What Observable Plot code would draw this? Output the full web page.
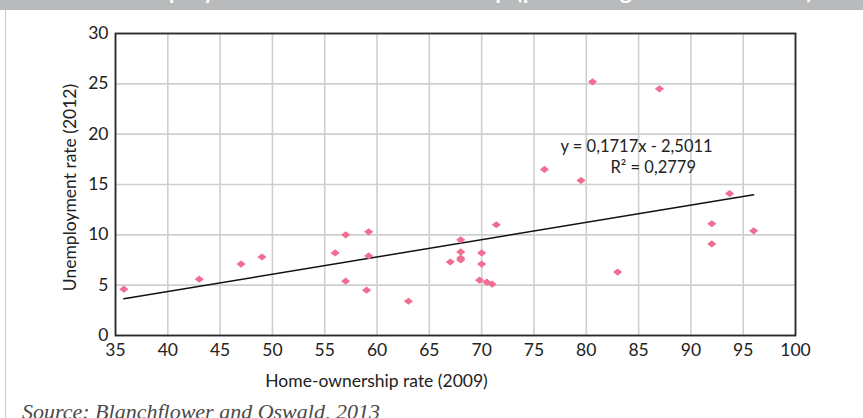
<!DOCTYPE html>
<html>
<head>
<meta charset="utf-8">
<script src="https://cdn.jsdelivr.net/npm/d3@7"></script>
<script src="https://cdn.jsdelivr.net/npm/@observablehq/plot@0.6"></script>
<style>
  html, body { margin: 0; padding: 0; background: #fff; }
  #wrap { position: relative; width: 863px; height: 418px; overflow: hidden; background: #fff; }
  #header { position: absolute; left: 0; top: 0; width: 863px; height: 10px; background: #b9babc; overflow: hidden; }
  #header span { position: absolute; left: 104px; top: -21px; line-height: 23px; font-family: Lato, sans-serif; font-weight: bold; font-size: 23px; color: #fff; white-space: nowrap; letter-spacing: 0.9px; }
  #leftline { position: absolute; left: 5px; top: 10px; width: 1px; height: 408px; background: #c8c8c8; }
  #chart { position: absolute; left: 0; top: 0; }
  #source { position: absolute; left: 22px; top: 401px; line-height: 22px; font-family: "Liberation Serif", serif; font-style: italic; font-size: 22px; color: #4a4a4a; white-space: nowrap; }
</style>
</head>
<body>
<div id="wrap">
  <div id="header"><span>Unemployment and home ownership (percentage of households)</span></div>
  <div id="leftline"></div>
  <div id="chart"></div>
  <div id="source">Source: Blanchflower and Oswald, 2013</div>
</div>
<script>
// Home-ownership rate (2009), x
const homeOwnership = [35.8, 43.0, 47.0, 49.0, 56.0, 57.0, 57.0, 59.0, 59.2, 59.2, 63.0, 67.0, 68.0, 68.0, 68.0, 68.0, 69.8, 70.0, 70.0, 70.5, 71.0, 71.4, 76.0, 79.5, 80.6, 83.0, 87.0, 92.0, 92.0, 93.7, 96.0];
// Unemployment rate (2012), y
const unemployment = [4.6, 5.6, 7.1, 7.8, 8.2, 10.0, 5.4, 4.5, 10.3, 7.9, 3.4, 7.3, 9.5, 8.3, 7.7, 7.5, 5.5, 8.2, 7.1, 5.3, 5.1, 11.0, 16.5, 15.4, 25.2, 6.3, 24.5, 11.1, 9.1, 14.1, 10.4];
const xTicks = [35, 40, 45, 50, 55, 60, 65, 70, 75, 80, 85, 90, 95, 100];
const yTicks = [0, 5, 10, 15, 20, 25, 30];
const trendSlope = 0.1717;
const trendIntercept = -2.5011;
const equationText = "y = 0,1717x - 2,5011";
const r2Text = "R\u00B2 = 0,2779";
const xLabel = "Home-ownership rate (2009)";
const yLabel = "Unemployment rate (2012)";

const points = homeOwnership.map((x, i) => ({x, y: unemployment[i]}));
const xMin = d3.min(homeOwnership), xMax = d3.max(homeOwnership);
const trend = [xMin, xMax].map(x => ({x, y: trendSlope * x + trendIntercept}));

const wideDiamond = {
  draw(ctx, size) {
    const w = 4.6, h = 3.6;
    ctx.moveTo(0, -h);
    ctx.lineTo(w, 0);
    ctx.lineTo(0, h);
    ctx.lineTo(-w, 0);
    ctx.closePath();
  }
};

const chart = Plot.plot({
  width: 863,
  height: 395,
  marginLeft: 115,
  marginRight: 68,
  marginTop: 33,
  marginBottom: 60,
  style: {fontFamily: "Lato, sans-serif", fontSize: "17px", color: "#222", background: "transparent"},
  x: {domain: [35, 100]},
  y: {domain: [0, 30]},
  marks: [
    Plot.gridX(xTicks, {stroke: "#cfcfcf", strokeOpacity: 1, strokeWidth: 1.6}),
    Plot.gridY(yTicks, {stroke: "#cfcfcf", strokeOpacity: 1, strokeWidth: 1.6}),
    Plot.axisX({ticks: xTicks, tickSize: 0, tickPadding: 8, label: null, fontSize: 17.5}),
    Plot.axisY({ticks: yTicks, tickSize: 0, tickPadding: 7, label: null, fontSize: 17.5}),
    Plot.frame({stroke: "#2a2a2a", strokeWidth: 1.8}),
    Plot.line(trend, {x: "x", y: "y", stroke: "#111", strokeWidth: 1.5}),
    Plot.dot(points, {x: "x", y: "y", symbol: wideDiamond, fill: "#f06e92", stroke: "none"}),
    Plot.text([equationText], {frameAnchor: "top-left", dx: 445, dy: 113, lineAnchor: "middle", textAnchor: "start", fontSize: 16.5, fill: "#222"}),
    Plot.text([r2Text], {frameAnchor: "top-left", dx: 495, dy: 134, lineAnchor: "middle", textAnchor: "start", fontSize: 16.5, fill: "#222"}),
    Plot.text([xLabel], {frameAnchor: "bottom", dx: -79, dy: 46, lineAnchor: "middle", textAnchor: "middle", fontSize: 17.5, fill: "#222"}),
    Plot.text([yLabel], {frameAnchor: "left", dx: -45, dy: 3, rotate: -90, lineAnchor: "middle", textAnchor: "middle", fontSize: 17.5, fill: "#222"})
  ]
});
document.getElementById("chart").appendChild(chart);
</script>
</body>
</html>
